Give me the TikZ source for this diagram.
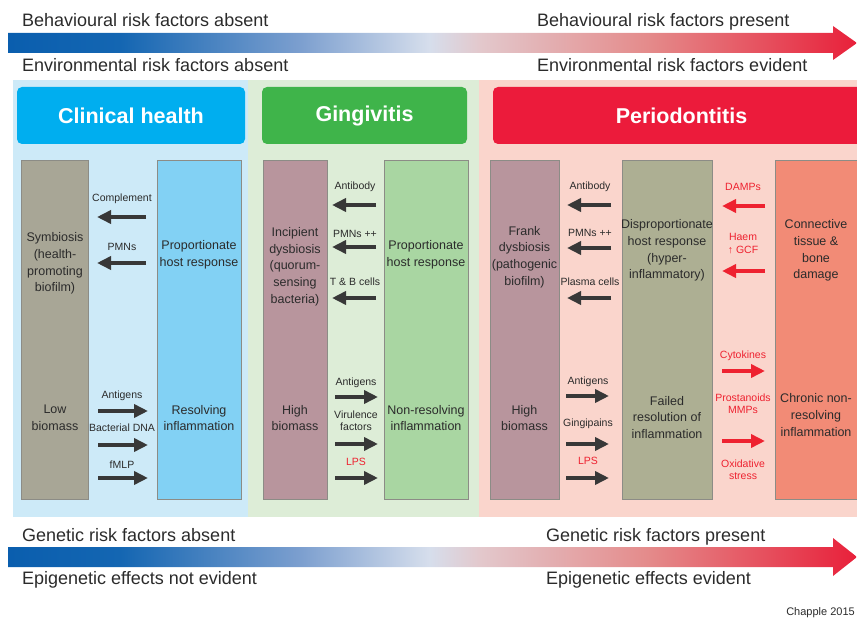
\documentclass[tikz,border=0pt]{standalone}
\usepackage{fontspec}
\setmainfont{Liberation Sans}
\usetikzlibrary{arrows.meta}
\definecolor{textdark}{HTML}{2B2B2B}
\definecolor{gradblue}{HTML}{0A5EAE}
\definecolor{gradblue2}{HTML}{1466B2}
\definecolor{gradblue3}{HTML}{7C9FCF}
\definecolor{gradmid}{HTML}{D6DEEC}
\definecolor{gradpink}{HTML}{E3C8CC}
\definecolor{gradpink2}{HTML}{E48A8A}
\definecolor{gradred}{HTML}{E8203A}
\definecolor{chbg}{HTML}{CDEAF8}
\definecolor{gibg}{HTML}{DDEDD7}
\definecolor{pebg}{HTML}{FAD5CC}
\definecolor{chhead}{HTML}{00AEEF}
\definecolor{gihead}{HTML}{3FB44A}
\definecolor{pehead}{HTML}{EC1B3B}
\definecolor{graycol}{HTML}{A8A696}
\definecolor{bluecol}{HTML}{82D1F4}
\definecolor{mauvecol}{HTML}{B8959D}
\definecolor{greencol}{HTML}{A9D6A2}
\definecolor{olivecol}{HTML}{ADAF93}
\definecolor{salmoncol}{HTML}{F28B76}
\definecolor{colline}{HTML}{8C8C86}
\definecolor{arrdark}{HTML}{383838}
\definecolor{arrred}{HTML}{EE2230}
\pgfdeclarehorizontalshading{riskbar}{100bp}{color(0bp)=(gradblue); color(25bp)=(gradblue);
  color(31.6bp)=(gradblue2); color(42.2bp)=(gradblue3); color(49.8bp)=(gradmid);
  color(52.8bp)=(gradpink); color(62.8bp)=(gradpink2); color(75bp)=(gradred); color(100bp)=(gradred)}

\begin{document}
\begin{tikzpicture}[x=1pt,y=-1pt,
  lbl/.style={font=\fontsize{10.5}{12.3}\selectfont, align=center, text=textdark, inner sep=0},
  body/.style={font=\fontsize{12.5}{16.7}\selectfont, align=center, text=textdark, inner sep=0},
  big/.style={font=\fontsize{18}{21}\selectfont, text=textdark, inner sep=0, anchor=base west},
  hdr/.style={rounded corners=5pt, text=white, inner sep=0,
    font=\bfseries\fontsize{21.5}{25}\selectfont},
  col/.style={draw=colline, line width=0.8pt},
  fat/.style={draw=arrdark, line width=4pt, -{Triangle[length=14pt,width=13pt]}},
  redfat/.style={fat, draw=arrred}]
\useasboundingbox (0,0) rectangle (857,623);

% risk factor bars
\shade[shading=riskbar]
  (8,33) -- (833,33) -- (833,26) -- (857,43) -- (833,60) -- (833,53) -- (8,53) -- cycle;
\shade[shading=riskbar]
  (8,547) -- (833,547) -- (833,538) -- (857,557) -- (833,576) -- (833,567) -- (8,567) -- cycle;
\node[big] (behabs) at (22,27) {Behavioural risk factors absent};
\node[big] (behpre) at (537,27) {Behavioural risk factors present};
\node[big] (envabs) at (22,72) {Environmental risk factors absent};
\node[big] (envevi) at (537,72) {Environmental risk factors evident};
\node[big] (genabs) at (22,541) {Genetic risk factors absent};
\node[big] (genpre) at (546,541) {Genetic risk factors present};
\node[big] (epiabs) at (22,584) {Epigenetic effects not evident};
\node[big] (epievi) at (546,584) {Epigenetic effects evident};
\node[font=\fontsize{11}{13}\selectfont, text=textdark, inner sep=0, anchor=base east]
  (credit) at (855,615) {Chapple 2015};

% stage panels
\fill[chbg] (13,80) rectangle (248,517);
\fill[gibg] (248,80) rectangle (479,517);
\fill[pebg] (479,80) rectangle (857,517);
\node[hdr, fill=chhead, minimum width=228, minimum height=57] (chtitle) at (131,115.5) {Clinical health};
\node[hdr, fill=gihead, minimum width=205, minimum height=57] (gititle) at (364.5,115.5) {Gingivitis};
\node[hdr, fill=pehead, minimum width=377, minimum height=57] (petitle) at (681.5,115.5) {Periodontitis};

% columns
\filldraw[col, fill=graycol] (21,160) rectangle (88,499);
\filldraw[col, fill=bluecol] (157,160) rectangle (241,499);
\filldraw[col, fill=mauvecol] (263,160) rectangle (327,499);
\filldraw[col, fill=greencol] (384,160) rectangle (468,499);
\filldraw[col, fill=mauvecol] (490,160) rectangle (559,499);
\filldraw[col, fill=olivecol] (622,160) rectangle (712,499);
\filldraw[col, fill=salmoncol] (775,160) rectangle (870,499);

% column texts
\node[body] (chsym) at (55,263.5) {Symbiosis\\(health-\\promoting\\biofilm)};
\node[body] (chhost) at (199,254.5) {Proportionate\\host response};
\node[body] (chlow) at (55,418) {Low\\biomass};
\node[body] (chres) at (199,418) {Resolving\\inflammation};
\node[body] (gidys) at (295,266.5) {Incipient\\dysbiosis\\(quorum-\\sensing\\bacteria)};
\node[body] (gihost) at (426,254.5) {Proportionate\\host response};
\node[body] (gihigh) at (295,418) {High\\biomass};
\node[body] (ginonres) at (426,418) {Non-resolving\\inflammation};
\node[body] (pedys) at (524.5,257) {Frank\\dysbiosis\\(pathogenic\\biofilm)};
\node[body] (pehost) at (667,250.5) {Disproportionate\\host response\\(hyper-\\inflammatory)};
\node[body] (pedamage) at (816,250.5) {Connective\\tissue \&\\bone\\damage};
\node[body] (pehigh) at (524.5,418) {High\\biomass};
\node[body] (pefail) at (667,417.5) {Failed\\resolution of\\inflammation};
\node[body] (pechron) at (816,415) {Chronic non-\\resolving\\inflammation};

% clinical health arrows
\foreach \n/\ly/\ay/\t in {cmp/199/217/Complement, pmn/247/263/PMNs}{
  \node[lbl] (ch-\n) at (122,\ly) {\t};
  \coordinate (ch-\n-a) at (146,\ay);
  \coordinate (ch-\n-b) at (97,\ay);
  \draw[fat] (ch-\n-a) -- (ch-\n-b);
}
\foreach \n/\ly/\ay/\t in {ant/396/411/Antigens, dna/428/445/Bacterial DNA, fml/465/478/fMLP}{
  \node[lbl] (ch-\n) at (122,\ly) {\t};
  \coordinate (ch-\n-a) at (98,\ay);
  \coordinate (ch-\n-b) at (148,\ay);
  \draw[fat] (ch-\n-a) -- (ch-\n-b);
}

% gingivitis arrows
\foreach \n/\ly/\ay/\t in {abd/187/205/Antibody, pmn/234/247/PMNs ++, tbc/282/298/T \& B cells}{
  \node[lbl] (gi-\n) at (355,\ly) {\t};
  \coordinate (gi-\n-a) at (376,\ay);
  \coordinate (gi-\n-b) at (332,\ay);
  \draw[fat] (gi-\n-a) -- (gi-\n-b);
}
\foreach \n/\ly/\ay/\c/\t in {ant/383/397/textdark/Antigens,
    vir/421/444/textdark/{Virulence\\factors}, lps/462/478/arrred/LPS}{
  \node[lbl, text=\c] (gi-\n) at (356,\ly) {\t};
  \coordinate (gi-\n-a) at (335,\ay);
  \coordinate (gi-\n-b) at (378,\ay);
  \draw[fat] (gi-\n-a) -- (gi-\n-b);
}

% periodontitis arrows
\foreach \n/\ly/\ay/\t in {abd/187/205/Antibody, pmn/233/248/PMNs ++, pla/282/298/Plasma cells}{
  \node[lbl] (pe-\n) at (590,\ly) {\t};
  \coordinate (pe-\n-a) at (611,\ay);
  \coordinate (pe-\n-b) at (567,\ay);
  \draw[fat] (pe-\n-a) -- (pe-\n-b);
}
\foreach \n/\ly/\ay/\c/\t in {ant/382/396/textdark/Antigens,
    gpn/424/444/textdark/Gingipains, lps/461/478/arrred/LPS}{
  \node[lbl, text=\c] (pe-\n) at (588,\ly) {\t};
  \coordinate (pe-\n-a) at (566,\ay);
  \coordinate (pe-\n-b) at (609,\ay);
  \draw[fat] (pe-\n-a) -- (pe-\n-b);
}
\foreach \n/\ly/\ay/\t in {dmp/187/206/DAMPs, hae/243.5/271/{Haem\\↑ GCF}}{
  \node[lbl, text=arrred] (pe-\n) at (743,\ly) {\t};
  \coordinate (pe-\n-a) at (765,\ay);
  \coordinate (pe-\n-b) at (722,\ay);
  \draw[redfat] (pe-\n-a) -- (pe-\n-b);
}
\foreach \n/\ly/\ay/\t in {cyt/356/371/Cytokines, pro/404/441/{Prostanoids\\MMPs}}{
  \node[lbl, text=arrred] (pe-\n) at (743,\ly) {\t};
  \coordinate (pe-\n-a) at (722,\ay);
  \coordinate (pe-\n-b) at (765,\ay);
  \draw[redfat] (pe-\n-a) -- (pe-\n-b);
}
\node[lbl, text=arrred] (pe-oxs) at (743,470) {Oxidative\\stress};
\end{tikzpicture}
\end{document}
